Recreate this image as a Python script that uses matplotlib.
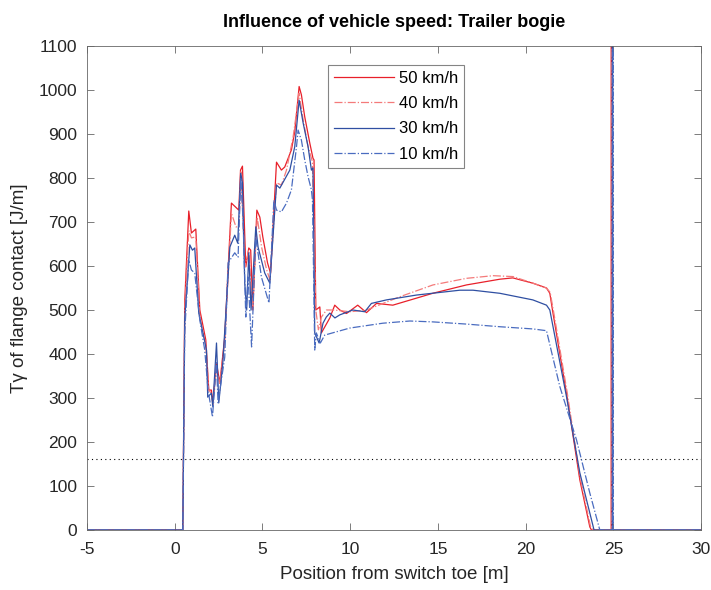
import matplotlib
matplotlib.use('Agg')
import matplotlib.pyplot as plt

plt.rcParams['font.family'] = ['Liberation Sans', 'DejaVu Sans']
plt.rcParams['axes.unicode_minus'] = False

# 50 km/h
x50 = [-5, 0.46, 0.57, 0.80, 0.95, 1.20, 1.43, 1.77, 1.94, 2.09, 2.17, 2.38, 2.57, 2.85,
       3.23, 3.52, 3.65, 3.75, 3.86, 4.05, 4.22, 4.33, 4.45, 4.68, 4.85, 5.02, 5.29, 5.46,
       5.80, 6.08, 6.27, 6.65, 6.84, 7.09, 7.22, 7.41, 7.70, 7.88, 7.94, 8.04, 8.27, 8.36,
       8.84, 9.12, 9.41, 9.79, 10.43, 10.93, 11.50, 12.43, 14.71, 16.63, 18.53, 19.27,
       20.41, 21.19, 21.38, 21.56, 22.33, 23.09, 23.66, 23.75,
       24.88, 24.89, 24.90, 30]
y50 = [0, 0, 520, 725, 675, 684, 500, 432, 318, 318, 289, 380, 334, 439,
       743, 732, 727, 818, 827, 598, 641, 636, 500, 727, 711, 666, 607, 584,
       836, 818, 825, 864, 905, 1008, 989, 939, 879, 845, 841, 500, 507, 448,
       482, 511, 500, 492, 511, 494, 515, 511, 538, 557, 570, 573,
       561, 550, 538, 493, 311, 114, 7, 0,
       0, 3000, 0, 0]

# 40 km/h
x40 = [-5, 0.46, 0.57, 0.80, 0.95, 1.20, 1.43, 1.77, 1.94, 2.09, 2.17, 2.38, 2.57, 2.85,
       3.23, 3.49, 3.66, 3.77, 4.00, 4.22, 4.43, 4.70, 4.95, 5.24, 5.43,
       5.80, 6.08, 6.37, 6.75, 7.09, 7.32, 7.60, 7.85, 8.04, 8.19, 8.36, 8.65,
       9.06, 10.0, 10.93, 12.82, 14.72, 16.63, 18.15, 19.28, 20.42, 21.19, 21.40,
       21.60, 22.36, 23.10, 23.70, 23.85,
       24.91, 24.92, 24.93, 30]
y40 = [0, 0, 500, 680, 664, 666, 485, 420, 318, 310, 285, 370, 330, 430,
       720, 689, 689, 814, 598, 636, 507, 711, 643, 591, 568,
       789, 784, 818, 894, 993, 932, 871, 837, 500, 455, 484, 500,
       500, 496, 500, 530, 557, 572, 578, 576, 561, 550, 540,
       495, 315, 120, 8, 0,
       0, 3000, 0, 0]

# 30 km/h
x30 = [-5, 0.46, 0.57, 0.86, 1.01, 1.14, 1.37, 1.81, 1.88, 2.09, 2.17, 2.38, 2.51, 2.74,
       3.14, 3.42, 3.59, 3.76, 3.86, 3.99, 4.10, 4.22, 4.35, 4.62, 4.75, 5.13, 5.42,
       5.80, 5.99, 6.56, 6.84, 7.09, 7.32, 7.60, 7.79, 7.88, 7.98, 8.23, 8.45, 8.64,
       8.84, 9.13, 9.41, 10.15, 10.83, 11.21, 12.07, 13.78, 16.25, 17.00, 18.53,
       20.41, 21.19, 21.38, 22.33, 23.09, 23.90,
       24.94, 24.95, 24.96, 30]
y30 = [0, 0, 480, 648, 636, 641, 493, 409, 302, 311, 280, 425, 289, 380,
       643, 670, 652, 811, 789, 561, 500, 630, 500, 689, 643, 584, 561,
       784, 777, 818, 871, 977, 925, 871, 818, 823, 448, 425, 470, 484,
       493, 482, 489, 500, 496, 515, 523, 534, 545, 545, 538,
       523, 511, 500, 303, 130, 0,
       0, 3000, 0, 0]

# 10 km/h
x10 = [-5, 0.46, 0.57, 0.80, 0.95, 1.14, 1.43, 1.71, 1.90, 2.15, 2.38, 2.47, 2.85, 3.04,
       3.42, 3.61, 3.76, 3.89, 4.05, 4.18, 4.38, 4.62, 4.94, 5.37, 5.65,
       5.80, 6.08, 6.37, 6.65, 6.94, 7.03, 7.22, 7.41, 7.60, 7.79, 7.85, 7.94, 7.98,
       8.07, 8.30, 8.55, 9.98, 11.86, 13.40, 14.71, 16.63, 18.53, 20.41, 21.19,
       21.95, 22.90, 23.66, 24.23,
       24.97, 24.98, 24.99, 30]
y10 = [0, 0, 450, 614, 591, 584, 477, 409, 318, 257, 380, 289, 393, 607,
       630, 620, 800, 711, 484, 575, 416, 666, 575, 516, 750,
       727, 723, 743, 773, 871, 909, 886, 841, 803, 773, 750, 516, 409,
       448, 425, 443, 459, 470, 475, 473, 468, 462, 457, 453,
       326, 205, 84, 0,
       0, 3000, 0, 0]

fig = plt.figure(figsize=(7.11, 5.9), dpi=100)
ax = fig.add_axes([0.1224, 0.1017, 0.8636, 0.8203])

ax.axhline(161, color='black', linestyle=(0, (1, 3)), linewidth=0.8)
ax.plot(x50, y50, color='#e8202a', linewidth=0.9, label='50 km/h')
ax.plot(x40, y40, color='#f47a7a', linewidth=0.9, linestyle='-.', label='40 km/h')
ax.plot(x30, y30, color='#2f4fa2', linewidth=0.9, label='30 km/h')
ax.plot(x10, y10, color='#4a6cc0', linewidth=0.9, linestyle='-.', label='10 km/h')

ax.set_xlim(-5, 30)
ax.set_ylim(0, 1100)
ax.set_xticks(range(-5, 31, 5))
ax.set_yticks(range(0, 1101, 100))
ax.tick_params(direction='in', top=True, right=True, labelsize=12.5, labelcolor='#262626',
               color='#666666', length=5, width=0.6)
ax.tick_params(axis='x', pad=9)
ax.tick_params(axis='y', pad=7)
for s in ax.spines.values():
    s.set_color('#666666')
    s.set_linewidth(0.6)

ax.set_xlabel('Position from switch toe [m]', fontsize=13.5, color='#262626', labelpad=6)
ax.set_ylabel('T\u03b3 of flange contact [J/m]', fontsize=13.5, color='#262626', labelpad=8)
ax.set_title('Influence of vehicle speed: Trailer bogie', fontsize=13, fontweight='bold', pad=14)

leg = ax.legend(loc='upper left', bbox_to_anchor=(0.393, 0.961), fontsize=12,
                handlelength=3.6, frameon=True, fancybox=False, borderpad=0.35,
                borderaxespad=0.0, labelspacing=0.62, handletextpad=0.3)
leg.get_frame().set_edgecolor('#666666')
leg.get_frame().set_linewidth(0.8)

fig.savefig('out.png', dpi=100)
